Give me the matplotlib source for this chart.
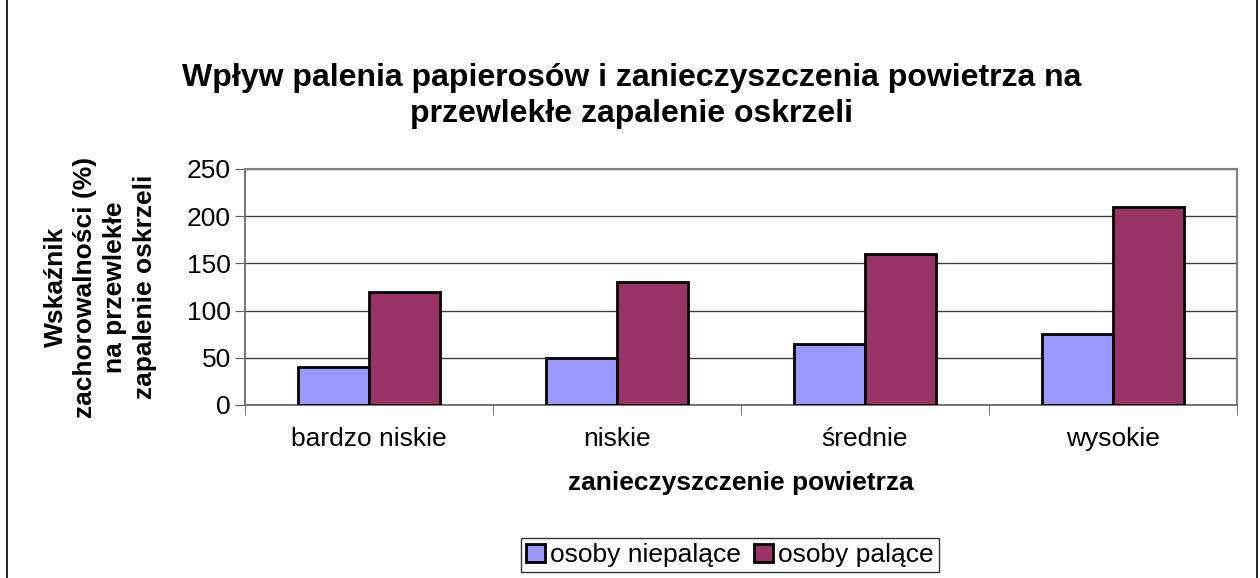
import matplotlib
matplotlib.use("Agg")
import matplotlib.pyplot as plt
import numpy as np
from matplotlib.patches import Rectangle

categories = ["bardzo niskie", "niskie", "średnie", "wysokie"]
niepalace = [40, 50, 65, 75]
palace = [120, 130, 160, 210]
series_names = ["osoby niepalące", "osoby palące"]
yticks = [0, 50, 100, 150, 200, 250]

plt.rcParams['font.family'] = ['Liberation Sans', 'DejaVu Sans']

W, H = 1260, 578
fig = plt.figure(figsize=(W / 100, H / 100), dpi=100)

# outer border
fig.patches.append(Rectangle((7 / W, -0.01), (1257 - 7) / W, 1.02, transform=fig.transFigure,
                             fill=False, edgecolor='black', linewidth=1.2))

x0, x1, ytop, ybot = 245, 1237, 169, 405
ax = fig.add_axes([x0 / W, 1 - ybot / H, (x1 - x0) / W, (ybot - ytop) / H])

x = np.arange(len(categories))
bw = 1 / 3.5
ax.bar(x - bw / 2, niepalace, bw, color='#9999FF', edgecolor='black', linewidth=2,
       label=series_names[0], zorder=3)
ax.bar(x + bw / 2, palace, bw, color='#993366', edgecolor='black', linewidth=2,
       label=series_names[1], zorder=3)

ax.set_xlim(-0.5, len(categories) - 0.5)
ax.set_ylim(0, 250)
ax.set_yticks(yticks)
ax.set_yticklabels([str(v) for v in yticks], fontsize=19)
ax.yaxis.grid(True, color='#404040', linewidth=1)
ax.set_axisbelow(True)

ax.set_xticks(x)
ax.set_xticklabels(categories, fontsize=19)
ax.tick_params(axis='x', length=0, pad=16)
ax.set_xticks(np.arange(-0.5, len(categories)), minor=True)
ax.tick_params(axis='x', which='minor', length=7, direction='out', color='#606060')
ax.tick_params(axis='y', length=7, direction='out', color='#606060', pad=3)

for side in ['top', 'right']:
    ax.spines[side].set_color('#808080')
    ax.spines[side].set_linewidth(1.5)
for side in ['left', 'bottom']:
    ax.spines[side].set_color('#606060')
    ax.spines[side].set_linewidth(1.2)

ax.set_xlabel("zanieczyszczenie powietrza", fontsize=19, fontweight='bold', labelpad=14)
ax.set_ylabel("Wskaźnik\nzachorowalności (%)\nna przewlekłe\nzapalenie oskrzeli",
              fontsize=19, fontweight='bold', linespacing=1.3, multialignment='center')
ax.yaxis.set_label_coords(-0.146, 0.5)
ax.yaxis.label.set_verticalalignment('center')

fig.text(632 / W, 1 - 96 / H,
         "Wpływ palenia papierosów i zanieczyszczenia powietrza na\nprzewlekłe zapalenie oskrzeli",
         ha='center', va='center', fontsize=23, fontweight='bold', linespacing=1.25)

leg = fig.legend(loc='center', bbox_to_anchor=(730 / W, 1 - 555 / H), ncol=2, fontsize=19,
                 frameon=True, fancybox=False, edgecolor='black', handlelength=0.7,
                 handleheight=0.7, handletextpad=0.2, columnspacing=0.5, borderpad=0.2,
                 borderaxespad=0)
leg.get_frame().set_linewidth(1)

fig.savefig("out.png", dpi=100)
